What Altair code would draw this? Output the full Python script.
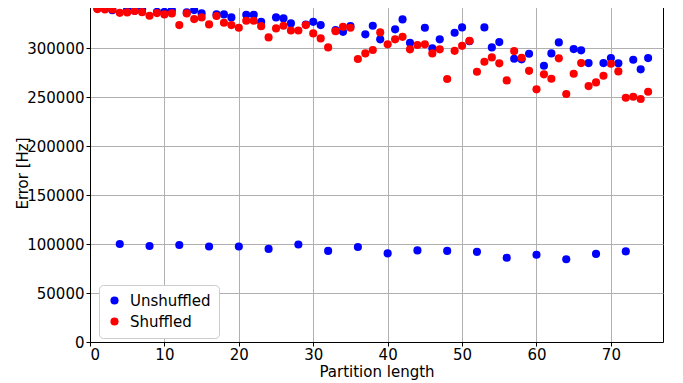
import altair as alt
import pandas as pd

partition = list(range(1, 76))

unshuffled = [
    340500, 340800, 338600, 100000, 339500, 338000, 339500, 98000, 337000, 337000,
    338800, 99000, 336400, 338800, 335400, 97500, 334400, 334400, 331300, 97500,
    334000, 334000, 326800, 95000, 331300, 330300, 325200, 99500, 324000, 326800,
    323500, 93000, 318400, 316600, 322400, 97000, 314000, 322800, 308900, 90500,
    319100, 329300, 305400, 93500, 320700, 299700, 308900, 93000, 315600, 321100,
    307000, 92000, 321100, 300700, 306100, 86000, 289100, 288500, 294200, 89000,
    282000, 294600, 305800, 84500, 299000, 297700, 284700, 90000, 284700, 289800,
    284400, 92500, 288100, 278300, 289800,
]

shuffled = [
    339800, 339500, 339500, 336000, 336400, 337800, 336700, 333000, 335700, 334400,
    335400, 323500, 335400, 329600, 331300, 324200, 332700, 325800, 323500, 320700,
    327900, 327900, 322400, 310900, 320100, 322800, 318000, 318000, 323500, 315000,
    309900, 300700, 317300, 321700, 320700, 288800, 294600, 298000, 316000, 303800,
    308900, 311500, 298700, 303100, 303800, 294600, 298700, 268400, 297200, 302300,
    307400, 275800, 286000, 290500, 284400, 267000, 296900, 290100, 276800, 257900,
    273200, 268700, 289500, 253100, 273800, 284700, 261200, 265000, 271700, 284000,
    276200, 249300, 250300, 248000, 255400,
]

series = ["Unshuffled", "Shuffled"]
colors = ["#0000ff", "#ff0000"]

df = pd.concat([
    pd.DataFrame({"x": partition, "y": unshuffled, "s": series[0], "o": 0}),
    pd.DataFrame({"x": partition, "y": shuffled, "s": series[1], "o": 1}),
], ignore_index=True)

font = "DejaVu Sans"

chart = alt.Chart(df).mark_circle(size=66, opacity=1).encode(
    x=alt.X("x:Q",
            scale=alt.Scale(domain=[0, 77], nice=False, zero=False),
            axis=alt.Axis(values=[0, 10, 20, 30, 40, 50, 60, 70], title="Partition length",
                          format="d", labelPadding=1, titlePadding=2)),
    y=alt.Y("y:Q",
            scale=alt.Scale(domain=[0, 345000], nice=False),
            axis=alt.Axis(values=[0, 50000, 100000, 150000, 200000, 250000, 300000],
                          title="Error [Hz]", format="d", labelPadding=2, titlePadding=-4)),
    color=alt.Color("s:N", scale=alt.Scale(domain=series, range=colors),
                    sort=series, title=None,
                    legend=alt.Legend(orient="none", legendX=9, legendY=281,
                                      padding=8, fillColor="white", strokeColor="#cccccc",
                                      cornerRadius=4, labelFontSize=15, labelFont=font,
                                      labelColor="black", symbolSize=66, symbolType="circle",
                                      rowPadding=5, labelOffset=8, symbolOpacity=1)),
    order=alt.Order("o:Q"),
).properties(
    width=573,
    height=338,
    autosize=alt.AutoSizeParams(type="none"),
    padding={"left": 82, "top": -4, "right": 8, "bottom": 41},
).configure_axis(
    grid=True,
    gridColor="#b0b0b0",
    gridWidth=1,
    domainColor="black",
    tickColor="black",
    tickSize=4,
    labelFontSize=15,
    titleFontSize=15,
    labelFont=font,
    titleFont=font,
    labelColor="black",
    titleColor="black",
    titleFontWeight="normal",
).configure_view(
    stroke="black",
    strokeWidth=1,
)

chart.save("out.html", embed_options={"renderer": "svg", "actions": False})
